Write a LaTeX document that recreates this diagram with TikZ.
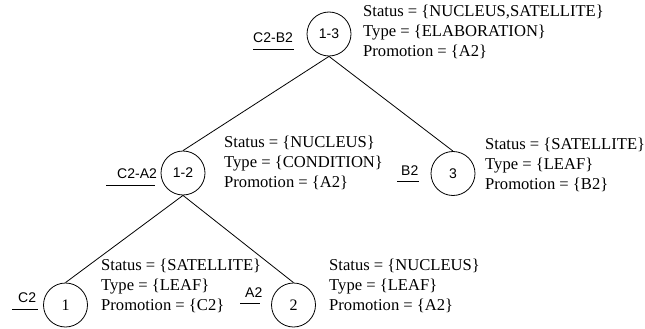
\documentclass[tikz,border=0pt]{standalone}
\usepackage{fontspec}
\setmainfont{Liberation Serif}
\setsansfont{Liberation Sans}
\begin{document}
\begin{tikzpicture}[x=1pt,y=-1pt,
  treenode/.style={circle,draw,line width=0.8pt,minimum size=44pt,inner sep=0pt},
  sansnum/.style={font=\fontsize{14}{16}\sffamily},
  serifnum/.style={font=\fontsize{16}{18}\selectfont},
  info/.style={anchor=base west,inner sep=0pt,font=\fontsize{16.6}{20}\selectfont},
  tag/.style={anchor=base west,inner sep=0pt,font=\fontsize{14}{16}\sffamily},
  edge/.style={line width=0.8pt},
  uline/.style={line width=0.8pt}]
\useasboundingbox (0,0) rectangle (645,329);

% tree nodes
\node[treenode,sansnum] (n13) at (329,34) {1-3};
\node[treenode,sansnum] (n12) at (183,173) {1-2};
\node[treenode,sansnum] (n3) at (453,173.5) {3};
\node[treenode,serifnum] (n1) at (65.5,305) {1};
\node[treenode,serifnum] (n2) at (293.5,305) {2};

% edges
\draw[edge] (n13.south) -- (n12.north);
\draw[edge] (n13.south) -- (n3.north);
\draw[edge] (n12.south) -- (n1.north);
\draw[edge] (n12.south) -- (n2.north);

% info blocks
\node[info] (s13) at (363,17) {Status = \{NUCLEUS,SATELLITE\}};
\node[info] (t13) at (363,37) {Type = \{ELABORATION\}};
\node[info] (p13) at (363,57) {Promotion = \{A2\}};

\node[info] (s12) at (224,147) {Status = \{NUCLEUS\}};
\node[info] (t12) at (224,167) {Type = \{CONDITION\}};
\node[info] (p12) at (224,187) {Promotion = \{A2\}};

\node[info] (s3) at (485,149) {Status = \{SATELLITE\}};
\node[info] (t3) at (485,169) {Type = \{LEAF\}};
\node[info] (p3) at (485,189) {Promotion = \{B2\}};

\node[info] (s1) at (101,270) {Status = \{SATELLITE\}};
\node[info] (t1) at (101,290) {Type = \{LEAF\}};
\node[info] (p1) at (101,310) {Promotion = \{C2\}};

\node[info] (s2) at (329,270) {Status = \{NUCLEUS\}};
\node[info] (t2) at (329,290) {Type = \{LEAF\}};
\node[info] (p2) at (329,310) {Promotion = \{A2\}};

% underlined tags
\node[tag] (g13) at (253,43) {C2-B2};
\coordinate (g13a) at (253,49.5);
\coordinate (g13b) at (294,49.5);
\draw[uline] (g13a) -- (g13b);

\node[tag] (g12) at (117,178) {C2-A2};
\coordinate (g12a) at (106,185.5);
\coordinate (g12b) at (155,185.5);
\draw[uline] (g12a) -- (g12b);

\node[tag] (g3) at (401,175) {B2};
\coordinate (g3a) at (397,181.5);
\coordinate (g3b) at (419,181.5);
\draw[uline] (g3a) -- (g3b);

\node[tag] (g1) at (18,302) {C2};
\coordinate (g1a) at (12,309);
\coordinate (g1b) at (38,309);
\draw[uline] (g1a) -- (g1b);

\node[tag] (g2) at (245,297) {A2};
\coordinate (g2a) at (240,303.5);
\coordinate (g2b) at (260,303.5);
\draw[uline] (g2a) -- (g2b);
\end{tikzpicture}
\end{document}
